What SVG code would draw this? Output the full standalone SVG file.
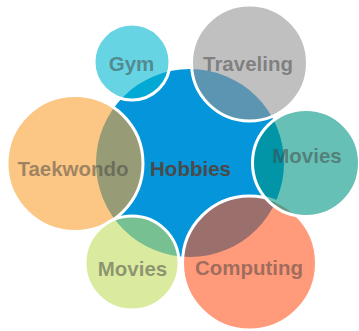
<svg xmlns="http://www.w3.org/2000/svg" width="359" height="331" viewBox="0 0 359 331">
  <style>
    .sat { stroke: #ffffff; stroke-width: 3; fill-opacity: 0.6; }
    .lbl { font-family: "Liberation Sans", Arial, sans-serif; font-weight: bold; font-size: 20.5px; text-anchor: middle; fill: #404040; fill-opacity: 0.5; }
    .center { font-family: "Liberation Sans", Arial, sans-serif; font-weight: bold; font-size: 20.5px; text-anchor: middle; fill: #4a4a4a; }
  </style>
  <rect width="359" height="331" fill="#ffffff"/>
  <g id="hobbies">
    <circle cx="190" cy="163" r="94" fill="#0595DB"/>
  </g>
  <g id="gym">
    <circle class="sat" cx="132" cy="62" r="38" fill="#00B7CF"/>
  </g>
  <g id="traveling">
    <circle class="sat" cx="249.5" cy="63" r="58" fill="#969696"/>
  </g>
  <g id="taekwondo">
    <circle class="sat" cx="75" cy="163.5" r="68" fill="#FAA232"/>
  </g>
  <g id="movies-bottom">
    <circle class="sat" cx="132" cy="263" r="47" fill="#C1DE61"/>
  </g>
  <g id="computing">
    <circle class="sat" cx="249.5" cy="263" r="67" fill="#FF5721"/>
  </g>
  <g id="movies-right">
    <circle class="sat" cx="306" cy="163" r="53.5" fill="#009684"/>
  </g>
  <g id="labels">
    <text class="center" x="190.5" y="176">Hobbies</text>
    <text class="lbl" x="131.5" y="71">Gym</text>
    <text class="lbl" x="248" y="71">Traveling</text>
    <text class="lbl" x="73" y="176">Taekwondo</text>
    <text class="lbl" x="307" y="163">Movies</text>
    <text class="lbl" x="132.5" y="276">Movies</text>
    <text class="lbl" x="249" y="275">Computing</text>
  </g>
</svg>
